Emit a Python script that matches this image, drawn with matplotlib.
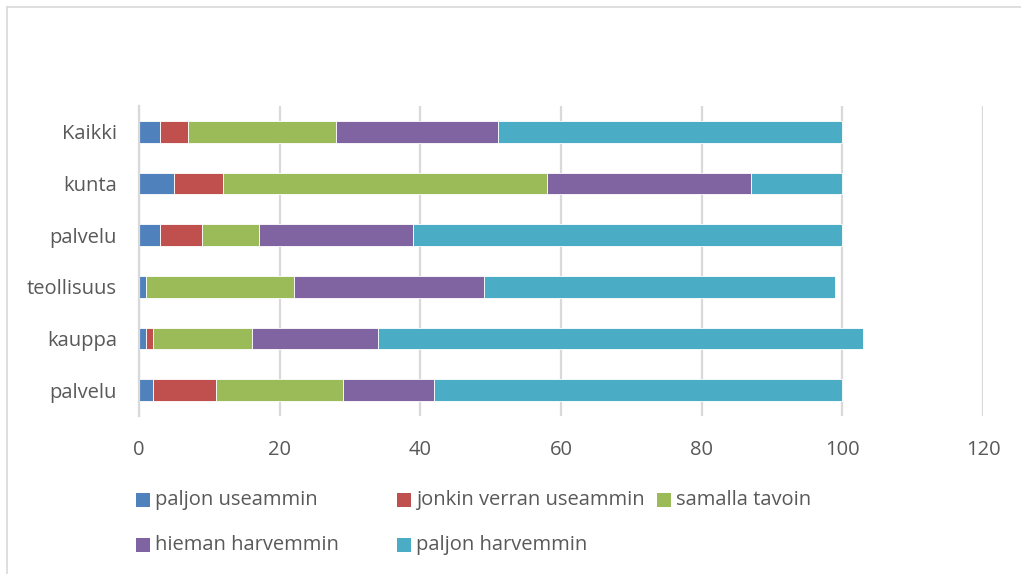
import matplotlib
matplotlib.use("Agg")
import matplotlib.pyplot as plt
from matplotlib.patches import Rectangle
from matplotlib.lines import Line2D
import numpy as np

categories = ["Kaikki", "kunta", "palvelu", "teollisuus", "kauppa", "palvelu"]
series_names = ["paljon useammin", "jonkin verran useammin", "samalla tavoin",
                "hieman harvemmin", "paljon harvemmin"]
paljon_useammin = [3, 5, 3, 1, 1, 2]
jonkin_verran_useammin = [4, 7, 6, 0, 1, 9]
samalla_tavoin = [21, 46, 8, 21, 14, 18]
hieman_harvemmin = [23, 29, 22, 27, 18, 13]
paljon_harvemmin = [49, 13, 61, 50, 69, 58]
x_ticks = [0, 20, 40, 60, 80, 100, 120]

series = [paljon_useammin, jonkin_verran_useammin, samalla_tavoin,
          hieman_harvemmin, paljon_harvemmin]
colors = ["#4F81BD", "#C0504D", "#9BBB59", "#8064A2", "#4BACC6"]

FONT = ["Open Sans", "DejaVu Sans"]
plt.rcParams['font.family'] = FONT
TXT = "#595959"
GRID = "#D9D9D9"
FS = 14.5

W, H = 1021, 574
fig = plt.figure(figsize=(W / 100, H / 100), dpi=100)

def px(x, y):
    return x / W, 1 - y / H

# axes: x 139..983, y 106..416
l, t = px(139, 106)
r, b = px(983, 416)
ax = fig.add_axes([l, b, r - l, t - b])

n = len(categories)
ypos = np.arange(n)[::-1]
left = np.zeros(n)
for vals, c in zip(series, colors):
    v = np.array(vals, dtype=float)
    ax.barh(ypos, v, left=left, height=0.42, color=c, edgecolor="white",
            linewidth=0.6, zorder=3)
    left += v

ax.set_xlim(0, 120)
ax.set_ylim(-0.5, n - 0.5)
ax.set_xticks(x_ticks)
ax.set_xticklabels([str(v) for v in x_ticks])
ax.set_yticks(ypos)
ax.set_yticklabels(categories)
ax.tick_params(axis="both", length=0, labelsize=FS, colors=TXT)
ax.tick_params(axis="x", pad=17)
ax.tick_params(axis="y", pad=16)
ax.grid(axis="x", color=GRID, linewidth=1.6, zorder=0)
for s in ["top", "right", "bottom"]:
    ax.spines[s].set_visible(False)
ax.spines["left"].set_color(GRID)
ax.spines["left"].set_linewidth(1.6)
ax.spines["left"].set_zorder(4)

# chart border (left and top visible)
fig.add_artist(Line2D([7 / W, 7 / W], [0, 1 - 7 / H], transform=fig.transFigure,
                      color=GRID, linewidth=1.2))
fig.add_artist(Line2D([7 / W, 1], [1 - 7 / H, 1 - 7 / H], transform=fig.transFigure,
                      color=GRID, linewidth=1.2))

# legend entries
legend_pos = [(136, 500), (397, 500), (657, 500), (136, 545), (397, 545)]
sq = 14
for name, c, (lx, ly) in zip(series_names, colors, legend_pos):
    x0, y0 = px(lx, ly + sq / 2)
    fig.add_artist(Rectangle((x0, y0), sq / W, sq / H, transform=fig.transFigure,
                             facecolor=c, edgecolor="none"))
    tx, ty = px(lx + sq + 5, ly)
    fig.text(tx, ty, name, fontsize=FS, color=TXT, va="center", ha="left")

fig.savefig("out.png", dpi=100, facecolor="white")
